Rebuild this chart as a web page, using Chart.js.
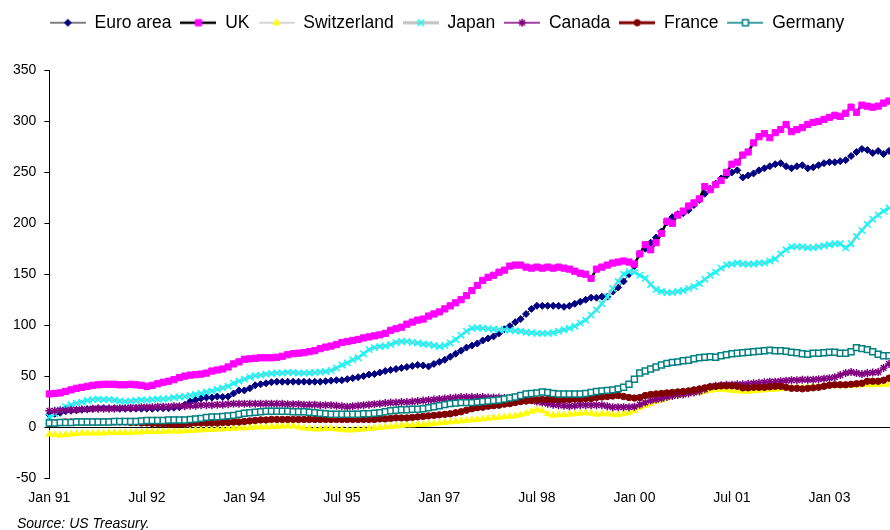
<!DOCTYPE html>
<html>
<head>
<meta charset="utf-8">
<script src="https://cdn.jsdelivr.net/npm/chart.js@4.4.1/dist/chart.umd.min.js"></script>
<style>
  html, body { margin: 0; padding: 0; background: #fff; }
  #wrap { position: relative; width: 890px; height: 530px; overflow: hidden; }
  #source {
    position: absolute; left: 17px; top: 515px;
    font: italic 14px/16px "Liberation Sans", Arial, Helvetica, sans-serif;
    color: #000;
  }
</style>
</head>
<body>
<div id="wrap">
  <canvas id="myChart" width="890" height="530"></canvas>
  <div id="source">Source: US Treasury.</div>
</div>
<script>
const monthNames = ['Jan', 'Feb', 'Mar', 'Apr', 'May', 'Jun', 'Jul', 'Aug', 'Sep', 'Oct', 'Nov', 'Dec'];
const years = ['91', '92', '93', '94', '95', '96', '97', '98', '99', '00', '01', '02', '03'];

const seriesNames = ['Euro area', 'UK', 'Switzerland', 'Japan', 'Canada', 'France', 'Germany'];

const euroArea = [
    12, 13, 14, 15.5, 16, 16.5, 17, 17.5, 18, 18.5, 18.5, 18.5,
    18.5, 18, 18, 18, 18, 18, 18, 18, 18.5, 18.5, 18.5, 19,
    19.5, 22, 25, 26.5, 28, 29, 29, 30, 29.5, 30, 33, 36,
    36, 38, 41, 42, 43, 44, 44.5, 44.5, 44.5, 44.5, 44.5, 44.5,
    44.5, 44.5, 44.5, 45, 45.5, 46, 46, 47, 48, 49, 50, 51.5,
    52, 53.5, 55, 56, 57, 58, 59, 60, 61, 60.5, 59.5, 62,
    64, 66, 69, 72, 75, 78, 80, 82, 85, 87, 89, 92,
    96, 99, 103, 106, 111, 116, 119, 119, 119, 119, 119, 118,
    119, 121, 123, 125, 127, 127, 128, 128, 133, 137, 143, 150,
    158, 170, 175, 181, 186, 192, 201, 206, 209, 210, 213, 218,
    223, 229, 234, 239, 244, 247, 250, 252, 245, 247, 249, 252,
    254, 256, 258, 259, 256, 254, 256, 257, 254, 255, 257, 259,
    260, 260, 261, 262, 266, 270, 273, 272, 269, 271, 268, 271
];
const uk = [
    32.5, 33, 33.5, 35, 36.5, 38, 39, 40, 41, 41.5, 42, 42,
    42, 41.5, 41.5, 42, 41.5, 41, 40, 41, 42.5, 44, 45, 46.5,
    48.5, 50, 51, 51.5, 52, 53, 55, 56, 57, 59, 62, 64,
    66.5, 67, 67.5, 68, 68, 68, 68.5, 69.5, 71, 72, 72.5, 73,
    74, 75, 77, 78.5, 79.5, 81, 83, 84, 85, 86, 87.5, 88.5,
    89.5, 90.5, 92, 95, 96.5, 98, 101, 103, 105, 106, 109, 111,
    113, 116, 119, 122, 125, 129, 134, 139, 144, 147, 149, 152,
    154, 158, 159, 159, 157, 156, 157, 156, 157, 156, 157, 156,
    155, 153, 151, 150, 146, 155, 157, 159, 161, 162, 163, 162,
    160, 170, 179, 174, 181, 190, 202, 200, 208, 212, 217, 220,
    224, 236, 233, 238, 242, 250, 258, 260, 267, 270, 279, 285,
    288, 284, 289, 292, 297, 290, 292, 294, 297, 299, 300, 302,
    304, 306, 305, 308, 314, 309, 316, 315, 314, 315, 318, 320
];
const switzerland = [
    -7, -7.5, -8, -7.5, -7, -6.5, -6, -6, -6, -6, -6, -5.5,
    -5.5, -5.5, -5.5, -5.5, -5, -5, -4.5, -4.5, -4.5, -4.5, -4, -4,
    -4, -4, -3.5, -3, -3, -2.5, -2.5, -2, -2, -1.5, -1.5, -1,
    -1, -0.5, 0, 0, 0, 0.5, 0.5, 1, 1, 1, 0, -1,
    -1.5, -2, -2, -1.5, -1.5, -2, -2.5, -3, -3, -2.5, -2, -1.5,
    -1, -0.5, 0, 0.5, 1, 1.5, 2, 2, 2.5, 2.5, 3, 3.5,
    4, 4.5, 5, 5.5, 6, 6.5, 7, 7.5, 8, 8.5, 9, 9.5,
    10, 10.5, 11, 12, 13.5, 15.5, 17, 16, 13, 11.5, 12, 12,
    12.5, 13, 13.5, 14, 13.5, 12.5, 13, 13, 12.5, 12, 13, 14,
    16, 19, 21, 23, 25, 26.5, 28.5, 30, 31, 32, 33, 33.5,
    34, 35, 36, 37, 37, 36.5, 36, 35.5, 35, 35, 35.5, 36,
    36.5, 37, 37, 37.5, 38, 38.5, 38.5, 38.5, 39, 39.5, 39.5, 40,
    40.5, 40.5, 40.5, 40.5, 41, 41, 41.5, 41.5, 41.5, 41.5, 42, 42
];
const japan = [
    10, 13, 17, 20, 22, 23.5, 24.5, 26, 27, 27.5, 27, 27,
    26.5, 25.5, 25, 25.5, 26, 26.5, 26.5, 27, 27.5, 27.5, 28, 29,
    29.5, 30, 31, 32, 33, 34.5, 35.5, 37, 38.5, 40, 43, 45,
    47, 49, 50.5, 51, 52, 52.5, 53, 53, 53.5, 53.5, 53, 53,
    53, 53.5, 54, 54.5, 55.5, 58, 61, 63, 66, 68, 72, 76,
    78, 79, 79.5, 81, 83, 84, 84, 83, 82.5, 81.5, 81, 80,
    79, 80, 82.5, 86, 90, 94, 97, 97.5, 97, 96.5, 96, 95.5,
    95.5, 95, 94.5, 94, 93, 92.5, 92, 92, 92, 92.5, 94, 95.5,
    97, 99, 102, 105, 110, 115, 121, 128, 136, 143, 150, 152.5,
    152, 149, 146, 140, 135, 133, 132, 132, 133, 134, 136, 138,
    141, 145, 149, 152, 156, 159, 160, 161, 160, 160, 160, 161,
    161, 163, 165, 170, 174, 177, 177, 177, 176, 176, 177, 178,
    179, 180, 180, 176, 180, 187, 193, 199, 204, 208, 212, 215
];
const canada = [
    16, 16, 16.5, 16.5, 17, 17, 17.5, 17.5, 18, 18, 18, 18,
    18, 18.5, 18.5, 19, 19, 19.5, 19.5, 19.5, 20, 20, 20, 20.5,
    20.5, 20.5, 21, 21, 21.5, 21.5, 21.5, 22, 22, 22.5, 23, 23,
    23, 23, 23, 23, 23, 23, 23, 23, 22.5, 22.5, 22.5, 22,
    22, 22, 21.5, 21.5, 21.5, 21, 20.5, 20, 20.5, 21, 21.5, 22,
    22.5, 23, 23.5, 24, 24, 24.5, 24.5, 25, 25.5, 26, 26.5, 27,
    27.5, 28, 28.5, 29, 29.5, 29.5, 29.5, 29.5, 29.5, 29, 29, 29,
    28.5, 28.5, 28.5, 28.5, 27.5, 26.5, 25, 24, 23, 22, 21.5, 21,
    20.5, 21, 21.5, 21.5, 21.5, 21.5, 21.5, 20.5, 19.5, 19.5, 19.5, 19.5,
    20, 22, 24, 26, 27, 28, 29.5, 30.5, 31.5, 32, 33, 34,
    35, 37, 39.5, 40.5, 41, 41.5, 41.5, 42, 42, 42.5, 43, 43.5,
    44, 44.5, 44.5, 45, 45.5, 46, 46, 46.5, 46.5, 46.5, 47, 47.5,
    48, 49, 51, 53, 54, 53, 52, 53, 53.5, 54, 58, 62
];
const france = [
    3.5, 4, 4.5, 5, 5, 5, 5, 5, 5, 5, 5, 5,
    5, 5, 5, 4.5, 4.5, 4, 4, 3.5, 3.5, 3, 3, 2.5,
    2.5, 3, 3.5, 4, 4, 4, 4, 4, 4.5, 4.5, 5, 5,
    5.5, 6, 6.5, 7, 7, 7.5, 7.5, 7.5, 7.5, 7.5, 7.5, 7.5,
    7.5, 7.5, 7.5, 7.5, 7.5, 7.5, 7.5, 7.5, 7.5, 7.5, 7.5, 7.5,
    7.5, 8, 8, 8.5, 9, 9, 9, 9.5, 10, 10.5, 11, 11.5,
    12, 12.5, 13, 14, 15, 16.5, 18, 19, 19.5, 20.5, 21, 21.5,
    22.5, 23, 24, 25, 25.5, 26, 26.5, 27, 27, 27, 27, 27,
    27, 27.5, 27.5, 28, 28, 29, 29.5, 30, 30.5, 31, 30, 29,
    28.5, 29, 31, 32, 32.5, 33, 33.5, 34, 34.5, 35, 35.5, 36.5,
    37.5, 38.5, 39.5, 40, 40.5, 40.5, 40.5, 40, 38.5, 38.5, 39, 39,
    39, 39.5, 40, 40, 39, 38, 38, 37.5, 38, 38.5, 39, 40,
    41, 41.5, 41.5, 41.5, 42, 42.5, 43, 45, 45, 45, 46, 48
];
const germany = [
    4, 4, 4.5, 4.5, 4.5, 5, 5, 5, 5, 5, 5, 5,
    5.5, 5.5, 5.5, 5.5, 5.5, 6, 6.5, 6.5, 6.5, 6.5, 7, 7,
    7, 7, 7.5, 8, 8.5, 9.5, 10, 10, 10.5, 11, 11.5, 12.5,
    13.5, 14, 14.5, 15, 15.5, 15.5, 15.5, 15.5, 15.5, 15, 15, 15,
    14.5, 14, 13.5, 13, 12.5, 12.5, 12.5, 12.5, 12.5, 12.5, 13, 13,
    13.5, 14, 15, 16, 16.5, 17, 17, 17.5, 17.5, 18, 19, 20,
    21, 22, 23, 23.5, 24, 24, 24, 24.5, 25, 25.5, 26, 26.5,
    27.5, 28.5, 29.5, 31, 32.5, 33, 33.5, 34.5, 34, 33, 32.5, 32.5,
    32.5, 32.5, 32.5, 33, 34, 35, 35.5, 36, 36.5, 37.5, 39, 42,
    47, 53, 55, 57, 59, 61, 62.5, 63.5, 64, 65, 65.5, 67,
    68, 68.5, 69, 68.5, 70, 71, 72, 72.5, 73, 73.5, 74, 74.5,
    75, 75.5, 75, 75, 74.5, 73.5, 73, 72, 71.5, 72.5, 72.5, 73,
    73.5, 73.5, 72.5, 72.5, 74, 78, 77, 76, 74, 71.5, 70, 70
];

const labels = [];
years.forEach(yr => {
    monthNames.forEach(m => labels.push(m + ' ' + yr));
});

const fontFamily = '"Liberation Sans", Arial, Helvetica, sans-serif';

// line colour / width and marker per series, same order as seriesNames
const looks = [
    { line: '#000000', width: 1,   style: 'rectRot',  fill: '#000080', stroke: '#000080', radius: 3.5, bw: 1 },
    { line: '#000000', width: 2.5, style: 'rect',     fill: '#FF00FF', stroke: '#FF00FF', radius: 4.4, bw: 1 },
    { line: '#C8C8C8', width: 1.5, style: 'triangle', fill: '#FFFF00', stroke: '#FFFF00', radius: 3.8, bw: 1 },
    { line: '#C0C0C0', width: 3,   style: 'crossRot', fill: '#00FFFF', stroke: '#00FFFF', radius: 4.5, bw: 1.5 },
    { line: '#800080', width: 1.5, style: 'star',     fill: '#800080', stroke: '#800080', radius: 4,   bw: 1.5 },
    { line: '#800000', width: 3,   style: 'circle',   fill: '#800000', stroke: '#800000', radius: 3.2, bw: 1 },
    { line: '#008080', width: 1.5, style: 'rect',     fill: '#FFFFFF', stroke: '#008080', radius: 4.2, bw: 1.5 }
];
const seriesData = [euroArea, uk, switzerland, japan, canada, france, germany];

// small pictures for the legend: a piece of line with the marker on it
function makeIcon(look) {
    const c = document.createElement('canvas');
    c.width = 36;
    c.height = 12;
    const g = c.getContext('2d');
    g.strokeStyle = look.line;
    g.lineWidth = look.width;
    g.beginPath();
    g.moveTo(0, 6);
    g.lineTo(36, 6);
    g.stroke();
    g.fillStyle = look.fill;
    g.strokeStyle = look.stroke;
    g.lineWidth = look.bw;
    Chart.helpers.drawPoint(g, { pointStyle: look.style, radius: look.radius, borderWidth: look.bw, rotation: 0 }, 18, 6);
    return c;
}
const icons = looks.map(makeIcon);

const datasets = seriesNames.map((name, i) => ({
    label: name,
    data: seriesData[i],
    borderColor: looks[i].line,
    borderWidth: looks[i].width,
    pointStyle: looks[i].style,
    pointRadius: looks[i].radius,
    pointBackgroundColor: looks[i].fill,
    pointBorderColor: looks[i].stroke,
    pointBorderWidth: looks[i].bw,
    tension: 0,
    fill: false,
    order: seriesNames.length - i
}));

const legendSpacer = {
    id: 'legendSpacer',
    beforeInit(chart) {
        const origFit = chart.legend.fit;
        chart.legend.fit = function () {
            origFit.bind(chart.legend)();
            this.height += 29;
        };
    }
};

const ctx = document.getElementById('myChart');
const chartCurrency = new Chart(ctx, {
    type: 'line',
    data: {
        labels: labels,
        datasets: datasets
    },
    options: {
        responsive: false,
        animation: false,
        devicePixelRatio: 1,
        layout: {
            autoPadding: false,
            padding: { left: 5, right: 1, top: 5, bottom: 52 }
        },
        scales: {
            x: {
                type: 'category',
                position: { y: 0 },
                offset: false,
                afterFit: scale => {
                    // the axis sits inside the plot, so its labels need no side room
                    scale.paddingLeft = 0;
                    scale.paddingRight = 0;
                },
                grid: {
                    drawOnChartArea: false,
                    drawTicks: true,
                    tickLength: 5,
                    color: c => (c.index % 18 === 0 ? '#000' : 'rgba(0,0,0,0)')
                },
                border: { display: true, color: '#000', width: 1 },
                ticks: {
                    autoSkip: false,
                    maxRotation: 0,
                    minRotation: 0,
                    padding: 58,
                    color: '#000',
                    font: { family: fontFamily, size: 14 },
                    callback: function (val, index) {
                        return index % 18 === 0 ? this.getLabelForValue(val) : null;
                    }
                }
            },
            y: {
                min: -50,
                max: 350,
                grid: { drawOnChartArea: false, tickLength: 5, color: '#000' },
                border: { display: true, color: '#000', width: 1 },
                ticks: {
                    stepSize: 50,
                    padding: 8,
                    color: '#000',
                    font: { family: fontFamily, size: 14 }
                }
            }
        },
        plugins: {
            legend: {
                position: 'top',
                labels: {
                    usePointStyle: true,
                    pointStyleWidth: 36,
                    padding: 9,
                    color: '#000',
                    font: { family: fontFamily, size: 17.5 },
                    generateLabels: chart => chart.data.datasets.map((ds, i) => ({
                        text: ds.label,
                        pointStyle: icons[i],
                        fillStyle: 'rgba(0,0,0,0)',
                        strokeStyle: 'rgba(0,0,0,0)',
                        lineWidth: 0,
                        hidden: false,
                        fontColor: '#000',
                        datasetIndex: i
                    }))
                }
            },
            title: { display: false },
            tooltip: { enabled: false }
        }
    },
    plugins: [legendSpacer]
});
</script>
</body>
</html>
